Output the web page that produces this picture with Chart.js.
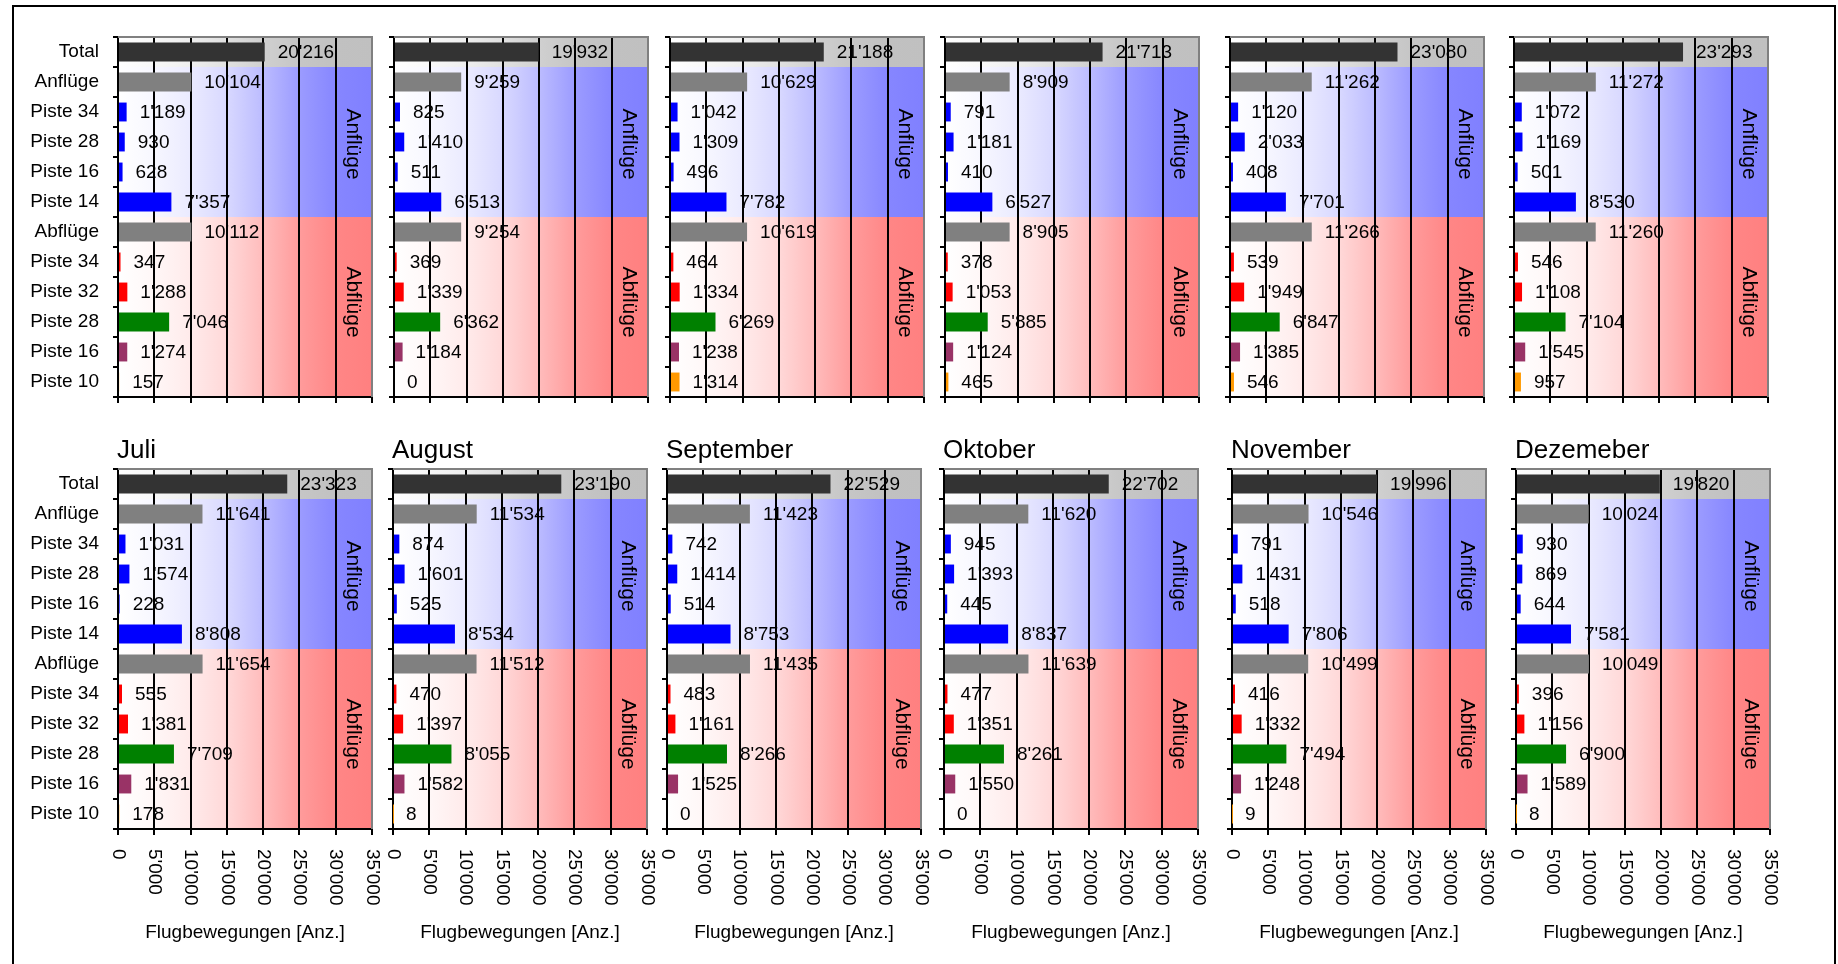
<!DOCTYPE html>
<html>
<head>
<meta charset="utf-8">
<script src="https://cdn.jsdelivr.net/npm/chart.js@4.4.1/dist/chart.umd.min.js"></script>
<style>
  html, body { margin: 0; padding: 0; background: #fff; width: 1838px; height: 964px; overflow: hidden; }
  #frame { position: absolute; left: 12px; top: 5px; width: 1824px; height: 1000px; border: 2px solid #000; box-sizing: border-box; }
  canvas { position: absolute; }
</style>
</head>
<body>
<div id="frame"></div>
<script>
// categories (top to bottom)
const categories = ["Total", "Anflüge", "Piste 34", "Piste 28", "Piste 16", "Piste 14",
                    "Abflüge", "Piste 34", "Piste 32", "Piste 28", "Piste 16", "Piste 10"];

// monthly values, same order as categories
const jan = [20216, 10104, 1189, 930, 628, 7357, 10112, 347, 1288, 7046, 1274, 157];
const feb = [19932, 9259, 825, 1410, 511, 6513, 9254, 369, 1339, 6362, 1184, 0];
const mar = [21188, 10629, 1042, 1309, 496, 7782, 10619, 464, 1334, 6269, 1238, 1314];
const apr = [21713, 8909, 791, 1181, 410, 6527, 8905, 378, 1053, 5885, 1124, 465];
const mai = [23080, 11262, 1120, 2033, 408, 7701, 11266, 539, 1949, 6847, 1385, 546];
const jun = [23293, 11272, 1072, 1169, 501, 8530, 11260, 546, 1108, 7104, 1545, 957];
const jul = [23323, 11641, 1031, 1574, 228, 8808, 11654, 555, 1381, 7709, 1831, 178];
const aug = [23190, 11534, 874, 1601, 525, 8534, 11512, 470, 1397, 8055, 1582, 8];
const sep = [22529, 11423, 742, 1414, 514, 8753, 11435, 483, 1161, 8266, 1525, 0];
const okt = [22702, 11620, 945, 1393, 445, 8837, 11639, 477, 1351, 8261, 1550, 0];
const nov = [19996, 10546, 791, 1431, 518, 7806, 10499, 416, 1332, 7494, 1248, 9];
const dez = [19820, 10024, 930, 869, 644, 7581, 10049, 396, 1156, 6900, 1589, 8];

// titles shown above the second row only
const titlesTop = ["", "", "", "", "", ""];
const titlesBottom = ["Juli", "August", "September", "Oktober", "November", "Dezemeber"];

// x axis
const xMin = 0, xMax = 35000, xStep = 5000;
const xTitle = "Flugbewegungen [Anz.]";
const groupLabels = ["Anflüge", "Abflüge"];

const barColors = ["#333333", "#808080", "#0000ff", "#0000ff", "#0000ff", "#0000ff",
                   "#808080", "#ff0000", "#ff0000", "#008000", "#993366", "#ff9900"];

const FONT = "'Liberation Sans', Arial, sans-serif";
Chart.defaults.font.family = FONT;
Chart.defaults.color = "#000";

const fmt = n => String(n).replace(/\B(?=(\d{3})+(?!\d))/g, "'");

const PLOT_W = 254, PLOT_H = 360;
const PL = 112, PT = 40, PR = 8, PB = 125;
const lefts = [[118, 394, 670, 945, 1230, 1514], [118, 393, 667, 944, 1232, 1516]];
const tops = [37, 469];

const greyStops = [[0, "#ffffff"], [0.14, "#f8f8f8"], [0.29, "#eeeeee"], [0.43, "#e0e0e0"],
                   [0.57, "#d0d0d0"], [0.71, "#c6c6c6"], [0.86, "#c1c1c1"], [1, "#c0c0c0"]];
const blueStops = [[0, "#ffffff"], [0.14, "#f7f7ff"], [0.29, "#eaeaff"], [0.43, "#d8d8ff"],
                   [0.57, "#bcbcff"], [0.71, "#9c9cff"], [0.86, "#8686ff"], [1, "#8080ff"]];
const redStops = [[0, "#ffffff"], [0.14, "#fff7f7"], [0.29, "#ffeaea"], [0.43, "#ffd8d8"],
                  [0.57, "#ffbcbc"], [0.71, "#ff9c9c"], [0.86, "#ff8686"], [1, "#ff8080"]];

function band(ctx, a, y0, y1, stops) {
  const g = ctx.createLinearGradient(a.left, 0, a.right, 0);
  stops.forEach(s => g.addColorStop(s[0], s[1]));
  ctx.fillStyle = g;
  ctx.fillRect(a.left, y0, a.right - a.left, y1 - y0);
}

const panelPlugin = {
  id: "panel",
  beforeDraw(chart) {
    const { ctx, chartArea: a, scales: { y } } = chart;
    const edge = i => (y.getPixelForValue(i) + y.getPixelForValue(i + 1)) / 2;
    const b1 = edge(0), b2 = edge(5);
    ctx.save();
    band(ctx, a, a.top, b1, greyStops);
    band(ctx, a, b1, b2, blueStops);
    band(ctx, a, b2, a.bottom, redStops);
    ctx.restore();
  },
  afterDatasetsDraw(chart, args, opts) {
    const { ctx, chartArea: a, scales: { y } } = chart;
    const values = chart.data.datasets[0].data;
    ctx.save();
    // grey frame top/right
    ctx.strokeStyle = "#808080";
    ctx.lineWidth = 2;
    ctx.beginPath();
    ctx.moveTo(a.left, a.top);
    ctx.lineTo(a.right, a.top);
    ctx.lineTo(a.right, a.bottom);
    ctx.stroke();
    // value labels
    ctx.fillStyle = "#000";
    ctx.font = "19px " + FONT;
    ctx.textAlign = "left";
    ctx.textBaseline = "middle";
    chart.getDatasetMeta(0).data.forEach((bar, i) => {
      ctx.fillText(fmt(values[i]), bar.x + 13, bar.y + 1);
    });
    // vertical group labels
    const edge = i => (y.getPixelForValue(i) + y.getPixelForValue(i + 1)) / 2;
    const b1 = edge(0), b2 = edge(5);
    const centers = [(b1 + b2) / 2 + 2, (b2 + a.bottom) / 2 - 5];
    ctx.font = "21px " + FONT;
    ctx.textAlign = "center";
    groupLabels.forEach((t, k) => {
      ctx.save();
      ctx.translate(a.right - 19, centers[k]);
      ctx.rotate(Math.PI / 2);
      ctx.fillText(t, 0, 0);
      ctx.restore();
    });
    ctx.restore();
  },
  afterDraw(chart, args, opts) {
    const { ctx, chartArea: a, scales: { x } } = chart;
    ctx.save();
    ctx.fillStyle = "#000";
    if (opts.title) {
      ctx.font = "26px " + FONT;
      ctx.textAlign = "left";
      ctx.textBaseline = "alphabetic";
      ctx.fillText(opts.title, a.left - 1, a.top - 11);
    }
    if (opts.showX) {
      ctx.font = "19px " + FONT;
      ctx.textAlign = "left";
      ctx.textBaseline = "middle";
      x.ticks.forEach(t => {
        const px = x.getPixelForValue(t.value);
        ctx.save();
        ctx.translate(px, a.bottom + 20);
        ctx.rotate(Math.PI / 2);
        ctx.fillText(fmt(t.value), 0, 0);
        ctx.restore();
      });
      ctx.textAlign = "center";
      ctx.fillText(xTitle, (a.left + a.right) / 2, a.bottom + 104);
    }
    ctx.restore();
  }
};

function makePanel(values, row, col, title) {
  const cv = document.createElement("canvas");
  cv.width = PL + PLOT_W + PR;
  cv.height = PT + PLOT_H + PB;
  cv.style.left = (lefts[row][col] - PL) + "px";
  cv.style.top = (tops[row] - PT) + "px";
  document.body.appendChild(cv);
  new Chart(cv, {
    type: "bar",
    data: {
      labels: categories,
      datasets: [{
        data: values,
        backgroundColor: barColors,
        borderWidth: 0,
        barPercentage: 0.63,
        categoryPercentage: 1
      }]
    },
    options: {
      indexAxis: "y",
      responsive: false,
      animation: false,
      devicePixelRatio: 1,
      events: [],
      layout: { padding: { left: 0, top: PT, right: PR, bottom: 0 } },
      plugins: {
        legend: { display: false },
        tooltip: { enabled: false },
        panel: { title: title, showX: row === 1 }
      },
      scales: {
        x: {
          min: xMin, max: xMax,
          ticks: { stepSize: xStep, display: false },
          grid: { color: "#000", lineWidth: 2, tickLength: 6 },
          border: { color: "#000", width: 2 },
          afterFit: s => { s.height = PB; }
        },
        y: {
          offset: true,
          ticks: { display: col === 0, autoSkip: false, color: "#000", font: { size: 19 }, padding: 14 },
          grid: { offset: true, drawOnChartArea: false, color: "#000", lineWidth: 2, tickLength: 5 },
          border: { color: "#000", width: 2 },
          afterFit: s => { s.width = PL; }
        }
      }
    },
    plugins: [panelPlugin]
  });
}

const topRow = [jan, feb, mar, apr, mai, jun];
const bottomRow = [jul, aug, sep, okt, nov, dez];
topRow.forEach((v, c) => makePanel(v, 0, c, titlesTop[c]));
bottomRow.forEach((v, c) => makePanel(v, 1, c, titlesBottom[c]));
</script>
</body>
</html>
